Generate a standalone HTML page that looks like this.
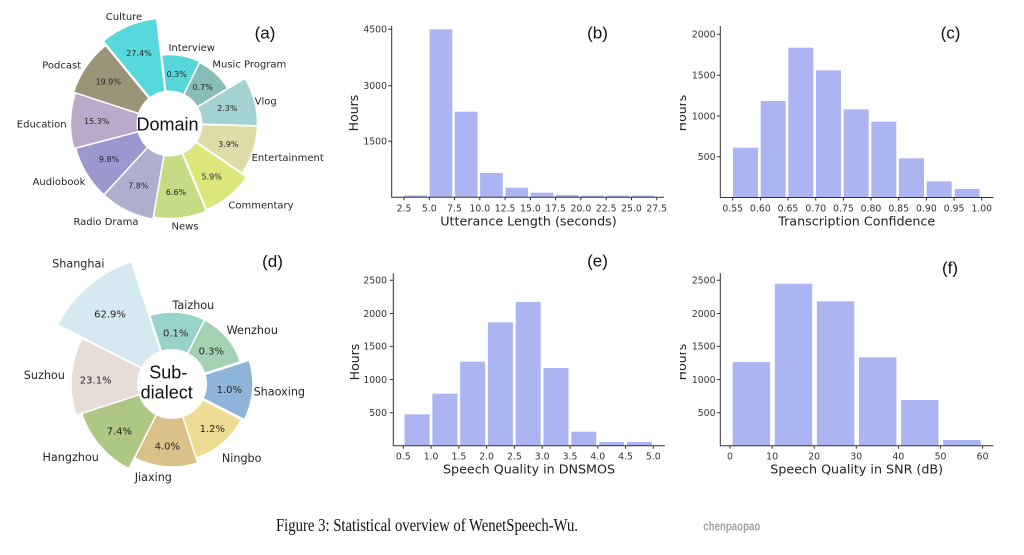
<!DOCTYPE html>
<html><head><meta charset="utf-8"><style>
html,body{margin:0;padding:0;background:#fff;}
svg{display:block;}
.dj{font-family:"DejaVu Sans","Liberation Sans",sans-serif;}
.ls{font-family:"Liberation Sans",Arial,sans-serif;}
</style></head><body>
<svg width="1024" height="555" viewBox="0 0 1024 555" xmlns="http://www.w3.org/2000/svg">
<rect width="1024" height="555" fill="#fff"/>
<defs><clipPath id="cr"><rect x="680" y="0" width="344" height="555"/></clipPath></defs>

<!-- (a) Domain pie -->
<g transform="translate(169.5,123.5)" stroke="#fff" stroke-width="1.5">
<path transform="rotate(-80.14)" d="M0,0 L66.21,-19.44 A69,69 0 0 1 66.21,19.44 Z" fill="#57d6da"/>
<path transform="rotate(-47.41)" d="M0,0 L65.25,-19.16 A68,68 0 0 1 65.25,19.16 Z" fill="#88bcb7"/>
<path transform="rotate(-14.68) translate(1,0)" d="M0,0 L83.48,-24.51 A87,87 0 0 1 83.48,24.51 Z" fill="#a4d1d1"/>
<path transform="rotate(18.05)" d="M0,0 L84.44,-24.79 A88,88 0 0 1 84.44,24.79 Z" fill="#dfdcaa"/>
<path transform="rotate(50.77) translate(2,0)" d="M0,0 L88.27,-25.92 A92,92 0 0 1 88.27,25.92 Z" fill="#dce67a"/>
<path transform="rotate(83.5)" d="M0,0 L91.15,-26.76 A95,95 0 0 1 91.15,26.76 Z" fill="#c5dc85"/>
<path transform="rotate(116.23)" d="M0,0 L93.07,-27.32 A97,97 0 0 1 93.07,27.32 Z" fill="#aeaecf"/>
<path transform="rotate(148.95)" d="M0,0 L93.07,-27.32 A97,97 0 0 1 93.07,27.32 Z" fill="#9a98cf"/>
<path transform="rotate(181.68)" d="M0,0 L94.99,-27.89 A99,99 0 0 1 94.99,27.89 Z" fill="#bba9c9"/>
<path transform="rotate(214.41)" d="M0,0 L96.91,-28.45 A101,101 0 0 1 96.91,28.45 Z" fill="#9a9479"/>
<path transform="rotate(-112.86) translate(3,0)" d="M0,0 L98.83,-29.02 A103,103 0 0 1 98.83,29.02 Z" fill="#57d8dc"/>
<circle r="33" fill="#fff" stroke="none"/>
</g>
<g class="dj" font-size="10" fill="#262626" text-anchor="middle">
<text x="124" y="20.2">Culture</text>
<text x="191.7" y="50.8">Interview</text>
<text x="249.3" y="67.5">Music Program</text>
<text x="265.7" y="104.5">Vlog</text>
<text x="287.7" y="161.2">Entertainment</text>
<text x="261" y="208.5">Commentary</text>
<text x="185" y="229.5">News</text>
<text x="106" y="225.2">Radio Drama</text>
<text x="59" y="185.2">Audiobook</text>
<text x="41.7" y="127.5">Education</text>
<text x="61.7" y="68.5">Podcast</text>
</g>
<g class="dj" font-size="8" fill="#262626" text-anchor="middle">
<text x="139" y="56.2">27.4%</text>
<text x="108.3" y="84.6">19.9%</text>
<text x="96.7" y="123.9">15.3%</text>
<text x="109" y="162.2">9.8%</text>
<text x="138.3" y="188.6">7.8%</text>
<text x="176" y="195.2">6.6%</text>
<text x="211.7" y="179.6">5.9%</text>
<text x="228.3" y="146.9">3.9%</text>
<text x="227.3" y="111.2">2.3%</text>
<text x="202.7" y="90.2">0.7%</text>
<text x="176.7" y="76.9">0.3%</text>
</g>
<text class="ls" x="167.5" y="130.5" font-size="18" fill="#111" text-anchor="middle">Domain</text>
<text class="ls" x="265" y="38.5" font-size="17" fill="#111" text-anchor="middle">(a)</text>

<!-- (d) Sub-dialect pie -->
<g transform="translate(172,384)" stroke="#fff" stroke-width="1.5">
<path transform="rotate(-85.5)" d="M0,0 L66.52,-27.55 A72,72 0 0 1 66.52,27.55 Z" fill="#97d3c9"/>
<path transform="rotate(-40.5)" d="M0,0 L66.52,-27.55 A72,72 0 0 1 66.52,27.55 Z" fill="#a3d2b3"/>
<path transform="rotate(4.5) translate(3,0)" d="M0,0 L72.06,-29.85 A78,78 0 0 1 72.06,29.85 Z" fill="#8fb4d9"/>
<path transform="rotate(49.5)" d="M0,0 L72.06,-29.85 A78,78 0 0 1 72.06,29.85 Z" fill="#ecdd92"/>
<path transform="rotate(94.5)" d="M0,0 L76.68,-31.76 A83,83 0 0 1 76.68,31.76 Z" fill="#d9c189"/>
<path transform="rotate(139.5)" d="M0,0 L87.77,-36.36 A95,95 0 0 1 87.77,36.36 Z" fill="#afc785"/>
<path transform="rotate(184.5)" d="M0,0 L93.31,-38.65 A101,101 0 0 1 93.31,38.65 Z" fill="#e7ddd6"/>
<path transform="rotate(-130.5) translate(2,0)" d="M0,0 L117.34,-48.6 A127,127 0 0 1 117.34,48.6 Z" fill="#d5e9f1"/>
<circle r="35" fill="#fff" stroke="none"/>
</g>
<g class="dj" font-size="11.2" fill="#262626" text-anchor="middle">
<text x="78.3" y="267.5">Shanghai</text>
<text x="193.3" y="309">Taizhou</text>
<text x="252.3" y="334">Wenzhou</text>
<text x="279.3" y="395.5">Shaoxing</text>
<text x="241.7" y="462">Ningbo</text>
<text x="153.3" y="481">Jiaxing</text>
<text x="70.7" y="461">Hangzhou</text>
<text x="44.3" y="379">Suzhou</text>
</g>
<g class="dj" font-size="10" fill="#262626" text-anchor="middle">
<text x="110" y="317.6">62.9%</text>
<text x="175.7" y="336.3">0.1%</text>
<text x="211.3" y="354.6">0.3%</text>
<text x="229.3" y="392.9">1.0%</text>
<text x="212.3" y="431.9">1.2%</text>
<text x="167.3" y="449.3">4.0%</text>
<text x="119.3" y="434.6">7.4%</text>
<text x="95.7" y="383.6">23.1%</text>
</g>
<text class="ls" x="168.3" y="378.5" font-size="18" fill="#111" text-anchor="middle">Sub-</text>
<text class="ls" x="166.7" y="398.3" font-size="18" fill="#111" text-anchor="middle">dialect</text>
<text class="ls" x="272.5" y="267" font-size="17" fill="#111" text-anchor="middle">(d)</text>

<!-- (b) Utterance length -->
<g fill="#aab5f1">
<rect x="404.3" y="195.4" width="22.7" height="1.9"/>
<rect x="429.6" y="29.3" width="22.7" height="168"/>
<rect x="454.8" y="111.7" width="22.7" height="85.6"/>
<rect x="480.1" y="173" width="22.7" height="24.3"/>
<rect x="505.4" y="187.7" width="22.7" height="9.6"/>
<rect x="530.7" y="192.7" width="22.7" height="4.6"/>
<rect x="555.9" y="195" width="22.7" height="2.3"/>
<rect x="581.2" y="195.6" width="22.7" height="1.7"/>
<rect x="606.5" y="195.6" width="22.7" height="1.7"/>
<rect x="631.8" y="195.6" width="22.7" height="1.7"/>
</g>
<g stroke="#333" stroke-width="1" fill="none">
<path d="M391.7,26 V197.3 H664"/>
<path d="M388.2,29.3 H391.7 M388.2,85.7 H391.7 M388.2,141.3 H391.7"/>
<path d="M404,197.3 v3 M429.3,197.3 v3 M454.5,197.3 v3 M479.8,197.3 v3 M505.1,197.3 v3 M530.4,197.3 v3 M555.6,197.3 v3 M580.9,197.3 v3 M606.2,197.3 v3 M631.5,197.3 v3 M656.7,197.3 v3"/>
</g>
<g class="dj" font-size="9.3" fill="#333" text-anchor="end">
<text x="387" y="32.6">4500</text>
<text x="387" y="89">3000</text>
<text x="387" y="144.6">1500</text>
</g>
<g class="dj" font-size="9.3" fill="#333" text-anchor="middle">
<text x="404" y="211.7">2.5</text>
<text x="429.3" y="211.7">5.0</text>
<text x="454.5" y="211.7">7.5</text>
<text x="479.8" y="211.7">10.0</text>
<text x="505.1" y="211.7">12.5</text>
<text x="530.4" y="211.7">15.0</text>
<text x="555.6" y="211.7">17.5</text>
<text x="580.9" y="211.7">20.0</text>
<text x="606.2" y="211.7">22.5</text>
<text x="631.5" y="211.7">25.0</text>
<text x="656.7" y="211.7">27.5</text>
</g>
<text class="dj" x="528.5" y="225.5" font-size="12.7" fill="#222" text-anchor="middle">Utterance Length (seconds)</text>
<text class="dj" transform="translate(358,113) rotate(-90)" font-size="12.5" fill="#222" text-anchor="middle">Hours</text>
<text class="ls" x="597.5" y="38.5" font-size="17" fill="#111" text-anchor="middle">(b)</text>

<!-- (c) Transcription confidence -->
<g fill="#aab5f1">
<rect x="733" y="147.7" width="25" height="49.8"/>
<rect x="760.7" y="101" width="25" height="96.5"/>
<rect x="788.3" y="47.7" width="25" height="149.8"/>
<rect x="816" y="70.3" width="25" height="127.2"/>
<rect x="843.7" y="109.3" width="25" height="88.2"/>
<rect x="871.3" y="121.7" width="25" height="75.8"/>
<rect x="899" y="158.3" width="25" height="39.2"/>
<rect x="926.7" y="181.3" width="25" height="16.2"/>
<rect x="954.6" y="189" width="25" height="8.5"/>
</g>
<g stroke="#333" stroke-width="1" fill="none">
<path d="M720.3,26 V197.5 H993.3"/>
<path d="M716.8,34.3 H720.3 M716.8,75.2 H720.3 M716.8,116 H720.3 M716.8,156.7 H720.3"/>
<path d="M732.7,197.5 v3 M760.4,197.5 v3 M788,197.5 v3 M815.7,197.5 v3 M843.4,197.5 v3 M871,197.5 v3 M898.7,197.5 v3 M926.4,197.5 v3 M954.1,197.5 v3 M981.7,197.5 v3"/>
</g>
<g class="dj" font-size="9.3" fill="#333" text-anchor="end">
<text x="715.5" y="37.6">2000</text>
<text x="715.5" y="78.5">1500</text>
<text x="715.5" y="119.3">1000</text>
<text x="715.5" y="160">500</text>
</g>
<g class="dj" font-size="9.3" fill="#333" text-anchor="middle">
<text x="732.7" y="211.7">0.55</text>
<text x="760.4" y="211.7">0.60</text>
<text x="788" y="211.7">0.65</text>
<text x="815.7" y="211.7">0.70</text>
<text x="843.4" y="211.7">0.75</text>
<text x="871" y="211.7">0.80</text>
<text x="898.7" y="211.7">0.85</text>
<text x="926.4" y="211.7">0.90</text>
<text x="954.1" y="211.7">0.95</text>
<text x="981.7" y="211.7">1.00</text>
</g>
<text class="dj" x="856.7" y="225.5" font-size="12.7" fill="#222" text-anchor="middle">Transcription Confidence</text>
<g clip-path="url(#cr)"><text class="dj" transform="translate(686,113) rotate(-90)" font-size="12.5" fill="#222" text-anchor="middle">Hours</text></g>
<text class="ls" x="950.5" y="38.5" font-size="17" fill="#111" text-anchor="middle">(c)</text>

<!-- (e) DNSMOS -->
<g fill="#aab5f1">
<rect x="404.6" y="414.3" width="25" height="31.5"/>
<rect x="432.4" y="393.7" width="25" height="52.1"/>
<rect x="460.2" y="361.7" width="25" height="84.1"/>
<rect x="487.9" y="322.3" width="25" height="123.5"/>
<rect x="515.7" y="302" width="25" height="143.8"/>
<rect x="543.5" y="368" width="25" height="77.8"/>
<rect x="571.3" y="431.7" width="25" height="14.1"/>
<rect x="599.1" y="442" width="25" height="3.8"/>
<rect x="626.8" y="442" width="25" height="3.8"/>
</g>
<g stroke="#333" stroke-width="1" fill="none">
<path d="M393.3,273.3 V445.8 H665"/>
<path d="M389.8,280.3 H393.3 M389.8,313.5 H393.3 M389.8,346.4 H393.3 M389.8,379.6 H393.3 M389.8,412.7 H393.3"/>
<path d="M403.3,445.8 v3 M431.1,445.8 v3 M458.9,445.8 v3 M486.6,445.8 v3 M514.4,445.8 v3 M542.2,445.8 v3 M570,445.8 v3 M597.8,445.8 v3 M625.5,445.8 v3 M653.3,445.8 v3"/>
</g>
<g class="dj" font-size="9.3" fill="#333" text-anchor="end">
<text x="387" y="283.6">2500</text>
<text x="387" y="316.8">2000</text>
<text x="387" y="349.7">1500</text>
<text x="387" y="382.9">1000</text>
<text x="387" y="416">500</text>
</g>
<g class="dj" font-size="9.3" fill="#333" text-anchor="middle">
<text x="403.3" y="459.5">0.5</text>
<text x="431.1" y="459.5">1.0</text>
<text x="458.9" y="459.5">1.5</text>
<text x="486.6" y="459.5">2.0</text>
<text x="514.4" y="459.5">2.5</text>
<text x="542.2" y="459.5">3.0</text>
<text x="570" y="459.5">3.5</text>
<text x="597.8" y="459.5">4.0</text>
<text x="625.5" y="459.5">4.5</text>
<text x="653.3" y="459.5">5.0</text>
</g>
<text class="dj" x="529" y="473.5" font-size="12.7" fill="#222" text-anchor="middle">Speech Quality in DNSMOS</text>
<text class="dj" transform="translate(359,362) rotate(-90)" font-size="12.5" fill="#222" text-anchor="middle">Hours</text>
<text class="ls" x="597.5" y="266.5" font-size="17" fill="#111" text-anchor="middle">(e)</text>

<!-- (f) SNR -->
<g fill="#aab5f1">
<rect x="732.7" y="362" width="37.4" height="83.8"/>
<rect x="774.8" y="283.7" width="37.4" height="162.1"/>
<rect x="816.9" y="301.3" width="37.4" height="144.5"/>
<rect x="859" y="357.3" width="37.4" height="88.5"/>
<rect x="901.1" y="400" width="37.4" height="45.8"/>
<rect x="943.2" y="440" width="37.4" height="5.8"/>
</g>
<g stroke="#333" stroke-width="1" fill="none">
<path d="M720.3,273.3 V445.8 H993.3"/>
<path d="M716.8,280.3 H720.3 M716.8,313.5 H720.3 M716.8,346.4 H720.3 M716.8,379.6 H720.3 M716.8,412.7 H720.3"/>
<path d="M730,445.8 v3 M772.1,445.8 v3 M814.2,445.8 v3 M856.3,445.8 v3 M898.4,445.8 v3 M940.5,445.8 v3 M982.6,445.8 v3"/>
</g>
<g class="dj" font-size="9.3" fill="#333" text-anchor="end">
<text x="715.5" y="283.6">2500</text>
<text x="715.5" y="316.8">2000</text>
<text x="715.5" y="349.7">1500</text>
<text x="715.5" y="382.9">1000</text>
<text x="715.5" y="416">500</text>
</g>
<g class="dj" font-size="9.3" fill="#333" text-anchor="middle">
<text x="730" y="459.5">0</text>
<text x="772.1" y="459.5">10</text>
<text x="814.2" y="459.5">20</text>
<text x="856.3" y="459.5">30</text>
<text x="898.4" y="459.5">40</text>
<text x="940.5" y="459.5">50</text>
<text x="982.6" y="459.5">60</text>
</g>
<text class="dj" x="856.7" y="473.5" font-size="12.7" fill="#222" text-anchor="middle">Speech Quality in SNR (dB)</text>
<g clip-path="url(#cr)"><text class="dj" transform="translate(686,362) rotate(-90)" font-size="12.5" fill="#222" text-anchor="middle">Hours</text></g>
<text class="ls" x="950" y="273.5" font-size="17" fill="#111" text-anchor="middle">(f)</text>

<!-- caption -->
<text x="276" y="531" font-family="'Liberation Serif','Times New Roman',serif" font-size="18" fill="#111" textLength="302" lengthAdjust="spacingAndGlyphs">Figure 3: Statistical overview of WenetSpeech-Wu.</text>
<text x="703.3" y="530.7" font-family="'Liberation Sans',Arial,sans-serif" font-size="13" font-weight="bold" fill="#a3a3a3" textLength="57" lengthAdjust="spacingAndGlyphs">chenpaopao</text>
</svg>
</body></html>
